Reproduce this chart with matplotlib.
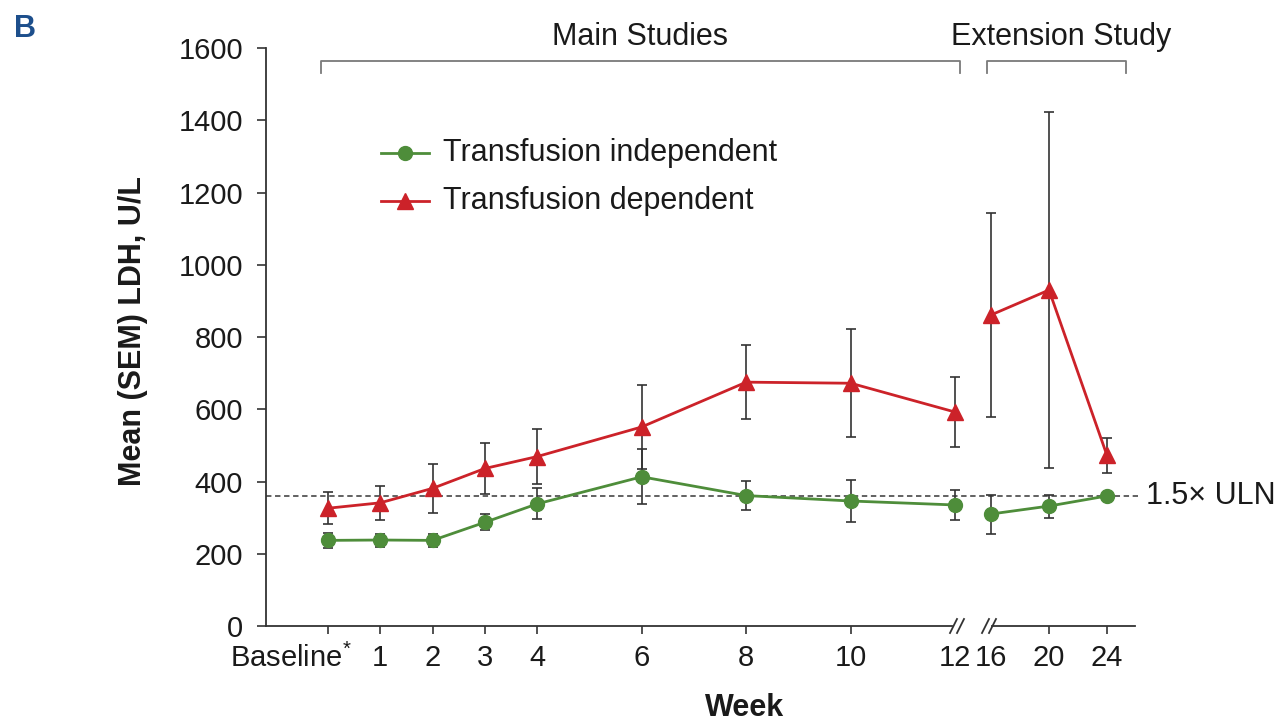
import matplotlib
matplotlib.use("Agg")
import matplotlib.pyplot as plt
import matplotlib.transforms as mtransforms
import numpy as np

plt.rcParams["font.family"] = ["Liberation Sans", "DejaVu Sans"]
plt.rcParams["mathtext.fontset"] = "custom"
plt.rcParams["mathtext.rm"] = "Liberation Sans"
plt.rcParams["mathtext.it"] = "Liberation Sans:italic"
plt.rcParams["mathtext.bf"] = "Liberation Sans:bold"

# Main studies (baseline = week 0) and extension study weeks
main_weeks = [0, 1, 2, 3, 4, 6, 8, 10, 12]
ext_weeks = [16, 20, 24]
main_tick_labels = ["Baseline$^{*}$", "1", "2", "3", "4", "6", "8", "10", "12"]
ext_tick_labels = ["16", "20", "24"]

# Transfusion independent: mean LDH and SEM
ti_main = [237, 238, 237, 287, 338, 413, 361, 346, 335]
ti_main_sem = [20, 18, 18, 22, 43, 76, 41, 57, 42]
ti_ext = [310, 332, 360]
ti_ext_sem = [54, 32, 8]

# Transfusion dependent: mean LDH and SEM
td_main = [326, 341, 381, 436, 469, 551, 675, 672, 592]
td_main_sem = [44, 47, 68, 71, 77, 117, 103, 150, 97]
td_ext = [861, 930, 472]
td_ext_sem = [283, 492, 49]

uln_15 = 360
y_ticks = [0, 200, 400, 600, 800, 1000, 1200, 1400, 1600]

GREEN = "#4e8d3a"
RED = "#cc2229"
INK = "#1a1a1a"
AX = "#333333"

W, H = 1283, 726
fig = plt.figure(figsize=(W / 100, H / 100), dpi=100)


def fx(px):
    return px / W


def fy(py):
    return 1 - py / H


y_bot, y_top = 626, 48
ax1 = fig.add_axes([fx(266), fy(y_bot), fx(957 - 266), (y_bot - y_top) / H])
ax2 = fig.add_axes([fx(985), fy(y_bot), fx(1135 - 985), (y_bot - y_top) / H], sharey=ax1)
for ax in (ax1, ax2):
    ax.patch.set_visible(False)

ax1.set_xlim(-1.185, 12.03)
ax2.set_xlim(15.586, 25.93)
ax1.set_ylim(0, 1600)

err_kw = dict(fmt="none", ecolor=AX, elinewidth=1.2, capsize=3.5, capthick=1.2, zorder=2)
for ax, weeks, ti, ti_e, td, td_e in [
    (ax1, main_weeks, ti_main, ti_main_sem, td_main, td_main_sem),
    (ax2, ext_weeks, ti_ext, ti_ext_sem, td_ext, td_ext_sem),
]:
    ax.errorbar(weeks, ti, yerr=ti_e, clip_on=False, **err_kw)
    ax.errorbar(weeks, td, yerr=td_e, clip_on=False, **err_kw)
    ax.plot(weeks, ti, color=GREEN, lw=2.0, marker="o", ms=10, mec=GREEN,
            zorder=3, clip_on=False)
    ax.plot(weeks, td, color=RED, lw=2.0, marker="^", ms=12, mec=RED,
            zorder=3, clip_on=False)
    for s in ("top", "right"):
        ax.spines[s].set_visible(False)
    ax.spines["bottom"].set_color(AX)
    ax.spines["bottom"].set_linewidth(1.3)
    ax.tick_params(axis="x", direction="out", length=6, width=1.2, color=AX,
                   labelsize=21, pad=7, labelcolor=INK)

# Left panel axes styling
ax1.spines["left"].set_color(AX)
ax1.spines["left"].set_linewidth(1.3)
ax1.set_yticks(y_ticks)
ax1.tick_params(axis="y", direction="out", length=6.5, width=1.2, color=AX,
                labelsize=21, pad=10, labelcolor=INK)
ax1.set_xticks(main_weeks)
ax1.set_xticklabels(main_tick_labels)
ax1.spines["bottom"].set_bounds(-1.185, 11.93)
ax1.xaxis.get_major_ticks()[-1].tick1line.set_visible(False)

# Baseline label sits to the left of its tick, ending just past it
base_lab = ax1.get_xticklabels()[0]
base_lab.set_horizontalalignment("right")
base_lab.set_transform(base_lab.get_transform() +
                       mtransforms.ScaledTranslation(24 / 100, 0, fig.dpi_scale_trans))

ax2.spines["left"].set_visible(False)
ax2.tick_params(axis="y", left=False, labelleft=False)
ax2.set_xticks(ext_weeks)
ax2.set_xticklabels(ext_tick_labels)
ax2.spines["bottom"].set_bounds(16.1, 25.93)
ax2.xaxis.get_major_ticks()[0].tick1line.set_visible(False)

# Axis break marks on the x axis
for xc in (957, 989):
    for dx in (-3.5, 3.5):
        x0 = xc + dx - 3.5
        x1 = xc + dx + 3.5
        fig.add_artist(plt.Line2D([fx(x0), fx(x1)], [fy(633), fy(619)],
                                  color=AX, lw=1.3, transform=fig.transFigure))

# 1.5x ULN reference line spanning both panels
blend = mtransforms.blended_transform_factory(fig.transFigure, ax1.transData)
ax1.plot([fx(266), fx(1138)], [uln_15, uln_15], transform=blend, color="#555555",
         lw=1.3, dashes=(3, 2), clip_on=False, zorder=1)
ax1.text(fx(1146), uln_15, "1.5\u00d7 ULN", transform=blend, fontsize=22,
         ha="left", va="center", color=INK)

# Study period brackets
def bracket(x0, x1, y=61, drop=12):
    fig.add_artist(plt.Line2D([fx(x0), fx(x0), fx(x1), fx(x1)],
                              [fy(y + drop), fy(y), fy(y), fy(y + drop)],
                              color="#7a7a7a", lw=1.3, transform=fig.transFigure))

bracket(321, 960)
bracket(987, 1126)
fig.text(fx(640), fy(37), "Main Studies", fontsize=22, ha="center", va="center", color=INK)
fig.text(fx(1061), fy(37), "Extension Study", fontsize=22, ha="center", va="center", color=INK)

# Legend drawn as line + marker samples
for yy, col, mk, ms, lab in [(153, GREEN, "o", 10, "Transfusion independent"),
                             (201, RED, "^", 12, "Transfusion dependent")]:
    fig.add_artist(plt.Line2D([fx(381), fx(429)], [fy(yy), fy(yy)], color=col, lw=2.0,
                              transform=fig.transFigure))
    fig.add_artist(plt.Line2D([fx(405)], [fy(yy)], color=col, marker=mk, ms=ms, mec=col,
                              transform=fig.transFigure))
    fig.text(fx(443), fy(yy), lab, fontsize=22, ha="left", va="center", color=INK)

fig.text(fx(133), fy(331), "Mean (SEM) LDH, U/L", rotation=90, fontsize=22,
         fontweight="bold", ha="center", va="center", color=INK)
fig.text(fx(745), fy(708), "Week", fontsize=22, fontweight="bold",
         ha="center", va="center", color=INK)
fig.text(fx(14), fy(29), "B", fontsize=22, fontweight="bold", ha="left", va="center",
         color="#1d4f8c")

fig.savefig("out.png", dpi=100)
